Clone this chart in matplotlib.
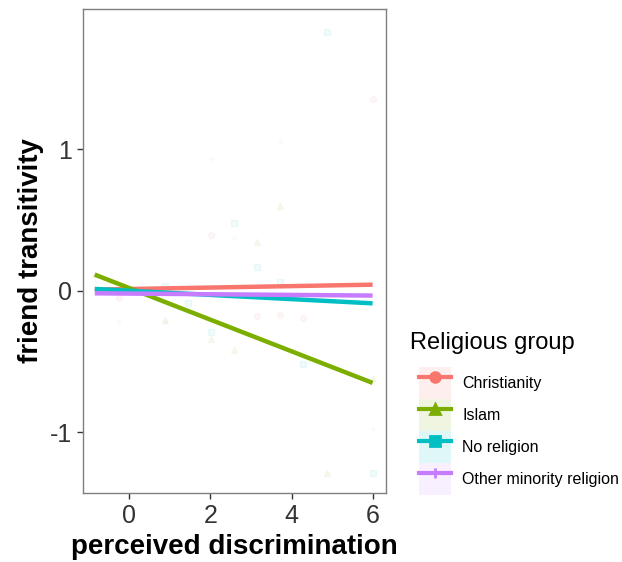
import matplotlib
matplotlib.use('Agg')
import matplotlib.pyplot as plt
from matplotlib.lines import Line2D
from matplotlib.patches import Patch
from matplotlib.legend_handler import HandlerTuple

plt.rcParams['font.family'] = ['Liberation Sans', 'DejaVu Sans']
plt.rcParams['axes.unicode_minus'] = False

groups = ['Christianity', 'Islam', 'No religion', 'Other minority religion']
colors = ['#F8766D', '#7CAE00', '#00BFC4', '#C77CFF']
markers = ['o', '^', 's', '+']

# raw observations per group (x = perceived discrimination, y = friend transitivity)
chr_x = [5.99, 2.01, -0.24, 3.15, 3.71, 4.28]
chr_y = [1.355, 0.39, -0.05, -0.18, -0.17, -0.19]
isl_x = [3.71, 3.15, 0.88, 2.01, 2.58, 5.99, 4.86, -0.84]
isl_y = [0.60, 0.34, -0.205, -0.34, -0.42, -0.62, -1.29, 0.12]
nor_x = [4.86, 2.58, 0.88, 3.15, 3.71, 1.46, 2.01, 4.28, 5.99]
nor_y = [1.83, 0.476, 0.03, 0.17, 0.06, -0.09, -0.29, -0.52, -1.29]
oth_x = [3.71, 2.01, 2.58, -0.84, 0.31, -0.24, 0.88, 5.99]
oth_y = [1.06, 0.93, 0.37, 0.06, 0.05, -0.22, -0.22, -0.98]

# fitted linear trend: values at the ends of the observed range
fit_x = [-0.84, 5.99]
chr_fit = [0.007, 0.042]
isl_fit = [0.113, -0.652]
nor_fit = [0.012, -0.09]
oth_fit = [-0.019, -0.035]

points = [(chr_x, chr_y), (isl_x, isl_y), (nor_x, nor_y), (oth_x, oth_y)]
fits = [chr_fit, isl_fit, nor_fit, oth_fit]

fig = plt.figure(figsize=(6.22, 5.62), dpi=100)
ax = fig.add_axes([0.1334, 0.1228, 0.4872, 0.8612])

for (px, py), c, m in zip(points, colors, markers):
    ax.scatter(px, py, marker=m, s=18, color=c, alpha=0.06, linewidths=1, zorder=1)

for f, c in zip(fits, colors):
    ax.plot(fit_x, f, color=c, lw=3.2, solid_capstyle='butt', zorder=2)

ax.set_xlim(-1.13, 6.32)
ax.set_ylim(-1.43, 1.99)
ax.set_xticks([0, 2, 4, 6])
ax.set_yticks([-1, 0, 1])
ax.tick_params(labelsize=18, labelcolor='#333333', color='#333333', length=4, width=1, pad=4)
for s in ax.spines.values():
    s.set_color('#7f7f7f')
    s.set_linewidth(1)

ax.set_xlabel('perceived discrimination', fontsize=20, fontweight='bold', labelpad=4)
ax.set_ylabel('friend transitivity', fontsize=20, fontweight='bold', labelpad=4)

# legend: title as plain text, keys with a faint tinted background
fig.text(410 / 622, 1 - 343 / 562, 'Religious group', fontsize=17, va='center', ha='left')

handles = []
for c, m in zip(colors, markers):
    bg = Patch(facecolor=c, alpha=0.12, edgecolor='none')
    ln = Line2D([], [], color=c, lw=3, marker=m, markersize=7, markeredgewidth=2)
    handles.append((bg, ln))

leg = fig.legend(handles, groups, loc='upper left', bbox_to_anchor=(419 / 622, 1 - 367 / 562),
                 frameon=False, fontsize=11.5,
                 handler_map={tuple: HandlerTuple(ndivide=1, pad=0)},
                 handlelength=2.0, handleheight=2.7, labelspacing=0,
                 handletextpad=0.7, borderpad=0, borderaxespad=0)

fig.savefig('out.png', dpi=100)
